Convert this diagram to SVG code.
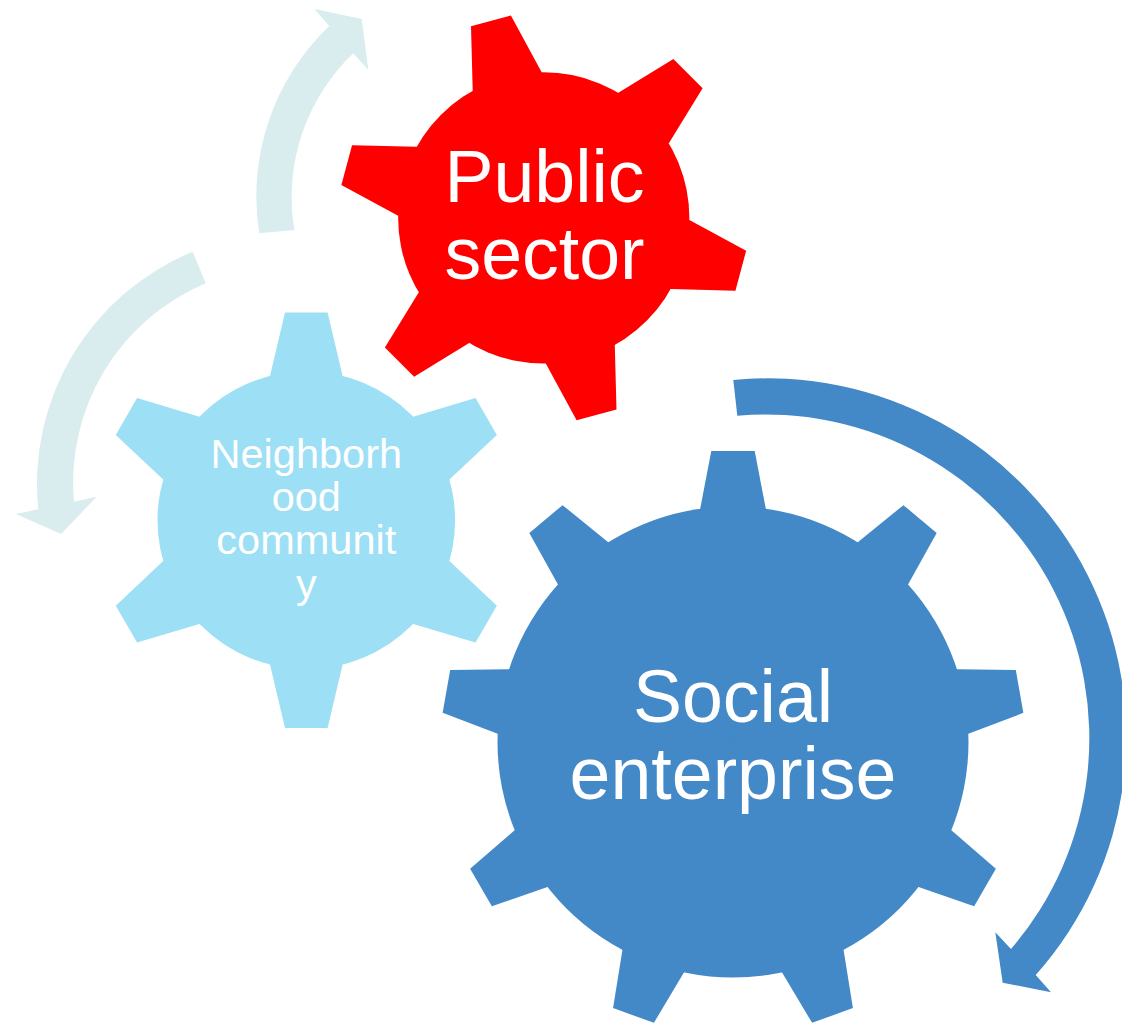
<svg xmlns="http://www.w3.org/2000/svg" xmlns:xlink="http://www.w3.org/1999/xlink" width="1122" height="1026" viewBox="0 0 1122 1026">
  <style>
    .lbl { font-family: "Liberation Sans", Arial, sans-serif; fill: #FFFFFF; text-anchor: middle; }
    .big { font-size: 73.5px; }
    .small { font-size: 41.5px; }
    .light { fill: #D9ECEE; }
    .dark { fill: #4388C7; }
  </style>
  <defs>
    <polygon id="toothSocial" points="-21.7,-291 21.7,-291 32.8,-233.2 0,0 -32.8,-233.2"/>
    <polygon id="toothRed" points="-20.65,-204 20.65,-204 35.7,-141.2 0,0 -35.7,-141.2"/>
    <polygon id="toothNb" points="-21.3,-207.7 21.3,-207.7 36.3,-144.3 0,0 -36.3,-144.3"/>
  </defs>
  <rect width="1122" height="1026" fill="#FFFFFF"/>

  <g id="connectors">
    <path class="light" d="M259.3,233.3 A235,235 0 0 1 329.3,26 L314.3,9 L361.7,19 L368.3,70 L353.3,53.3 A199,199 0 0 0 294.3,230 Z"/>
    <path class="light" d="M192.7,251.7 A251,251 0 0 0 38.3,509.3 L16,514 L61,534 L96.7,496.7 L74,501.7 A216,216 0 0 1 205.7,283.3 Z"/>
    <path class="dark" d="M733.3,380 A358.5,358.5 0 0 1 1035.7,975 L1051,992.3 L1002.7,982.7 L995.3,932.3 L1011,949 A323.5,323.5 0 0 0 737.3,415.7 Z"/>
  </g>

  <g id="node-public-sector" fill="#FF0000">
    <g transform="translate(543.75,217.9)">
      <circle r="145.6"/>
      <use xlink:href="#toothRed" transform="rotate(-15)"/>
      <use xlink:href="#toothRed" transform="rotate(45)"/>
      <use xlink:href="#toothRed" transform="rotate(105)"/>
      <use xlink:href="#toothRed" transform="rotate(165)"/>
      <use xlink:href="#toothRed" transform="rotate(225)"/>
      <use xlink:href="#toothRed" transform="rotate(285)"/>
    </g>
    <text class="lbl big" x="544.5" y="201.7">Public</text>
    <text class="lbl big" x="544.5" y="279">sector</text>
  </g>

  <g id="node-neighborhood-community" fill="#9DDFF5">
    <g transform="translate(306.3,520.3)">
      <circle r="148.8"/>
      <use xlink:href="#toothNb" transform="rotate(0)"/>
      <use xlink:href="#toothNb" transform="rotate(60)"/>
      <use xlink:href="#toothNb" transform="rotate(120)"/>
      <use xlink:href="#toothNb" transform="rotate(180)"/>
      <use xlink:href="#toothNb" transform="rotate(240)"/>
      <use xlink:href="#toothNb" transform="rotate(300)"/>
    </g>
    <text class="lbl small" x="306.3" y="467.7">Neighborh</text>
    <text class="lbl small" x="306.3" y="511">ood</text>
    <text class="lbl small" x="306.3" y="554.3">communit</text>
    <text class="lbl small" x="306.3" y="597.6">y</text>
  </g>

  <g id="node-social-enterprise" fill="#4388C7">
    <g transform="translate(733,742)">
      <circle r="235.5"/>
      <use xlink:href="#toothSocial" transform="rotate(0)"/>
      <use xlink:href="#toothSocial" transform="rotate(40)"/>
      <use xlink:href="#toothSocial" transform="rotate(80)"/>
      <use xlink:href="#toothSocial" transform="rotate(120)"/>
      <use xlink:href="#toothSocial" transform="rotate(160)"/>
      <use xlink:href="#toothSocial" transform="rotate(200)"/>
      <use xlink:href="#toothSocial" transform="rotate(240)"/>
      <use xlink:href="#toothSocial" transform="rotate(280)"/>
      <use xlink:href="#toothSocial" transform="rotate(320)"/>
    </g>
    <text class="lbl big" x="733" y="721.7">Social</text>
    <text class="lbl big" x="733" y="799">enterprise</text>
  </g>
</svg>
